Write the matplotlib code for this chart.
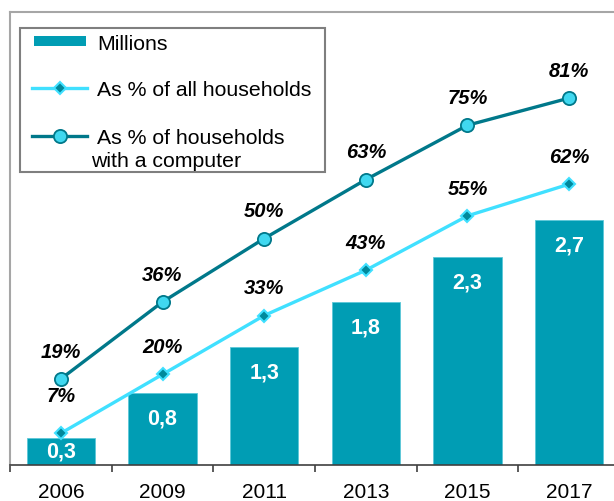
import matplotlib
matplotlib.use("Agg")
import matplotlib.pyplot as plt
from matplotlib.lines import Line2D
from matplotlib.patches import Rectangle

plt.rcParams['font.family'] = ['Liberation Sans', 'DejaVu Sans']

years = ["2006", "2009", "2011", "2013", "2015", "2017"]
millions = [0.3, 0.8, 1.3, 1.8, 2.3, 2.7]
pct_all = [7, 20, 33, 43, 55, 62]
pct_computer = [19, 36, 50, 63, 75, 81]
legend_labels = ["Millions", "As % of all households",
                 "As % of households", "with a computer"]

bar_color = '#009DB4'
light = '#40E0FF'
dark = '#00788A'

W, H = 614, 502
fig = plt.figure(figsize=(W / 100, H / 100), dpi=100)
ax = fig.add_axes([10 / W, 36 / H, 610 / W, 453 / H])
x = list(range(len(years)))

ax.bar(x, millions, width=0.67, color=bar_color, edgecolor='#5CC8D8',
       linewidth=0.6, zorder=2)
ax.set_ylim(0, 5)
ax.set_xlim(-0.5, len(years) - 0.5)

for xi, v in zip(x, millions):
    txt = f"{v:.1f}".replace('.', ',')
    if v < 0.5:
        ax.text(xi, v / 2, txt, ha='center', va='center', color='white',
                fontsize=15.5, fontweight='bold', zorder=5)
    else:
        ax.annotate(txt, (xi, v), xytext=(0, -18), textcoords='offset points',
                    ha='center', va='center', color='white',
                    fontsize=15.5, fontweight='bold', zorder=5)

ax2 = ax.twinx()
ax2.set_ylim(0, 100)
all_style = dict(color=light, lw=2.4, marker='D', ms=6,
                 mfc='#00899C', mec=light, mew=1.5)
comp_style = dict(color=dark, lw=2.4, marker='o', ms=9.5,
                  mfc='#40D8F0', mec=dark, mew=1.3)
ax2.plot(x, pct_all, zorder=3, **all_style)
ax2.plot(x, pct_computer, zorder=3, **comp_style)

for i, (xi, v) in enumerate(zip(x, pct_all)):
    off = 27 if i == 0 else 20
    ax2.annotate(f"{v}%", (xi, v), xytext=(0, off), textcoords='offset points',
                 ha='center', va='center', fontsize=14.5, fontweight='bold',
                 fontstyle='italic', color='black')
for xi, v in zip(x, pct_computer):
    ax2.annotate(f"{v}%", (xi, v), xytext=(0, 20), textcoords='offset points',
                 ha='center', va='center', fontsize=14.5, fontweight='bold',
                 fontstyle='italic', color='black')

# axis styling
for a in (ax, ax2):
    a.set_yticks([])
ax.spines['left'].set_color('#A6A6A6')
ax.spines['left'].set_linewidth(1.5)
ax.spines['top'].set_color('#A6A6A6')
ax.spines['top'].set_linewidth(1.5)
ax.spines['right'].set_visible(False)
ax.spines['bottom'].set_color('#404040')
ax.spines['bottom'].set_linewidth(1.2)
for s in ax2.spines.values():
    s.set_visible(False)

ax.set_xticks([i - 0.5 for i in range(len(years) + 1)])
ax.set_xticklabels([])
ax.tick_params(axis='x', which='major', direction='out', length=5,
               width=1.2, color='#404040')
ax.set_xticks(x, minor=True)
ax.set_xticklabels(years, minor=True, fontsize=15)
ax.tick_params(axis='x', which='minor', length=0, pad=12)


# legend box, laid out in pixel units measured from the top-left corner
def fx(px):
    return px / W


def fy(py):
    return 1 - py / H


fig.add_artist(Rectangle((fx(20), fy(173)), fx(325) - fx(20), fy(29) - fy(173),
                         transform=fig.transFigure, facecolor='white',
                         edgecolor='#7F7F7F', linewidth=1.5, zorder=10))
fig.add_artist(Rectangle((fx(34), fy(47)), fx(86) - fx(34), fy(37) - fy(47),
                         transform=fig.transFigure, facecolor=bar_color,
                         edgecolor='none', zorder=11))
for yy, style in ((89, all_style), (137, comp_style)):
    ln = Line2D([fx(32), fx(87)], [fy(yy), fy(yy)], transform=fig.transFigure,
                markevery=[], zorder=11, **style)
    fig.add_artist(ln)
    fig.add_artist(Line2D([fx(59.5)], [fy(yy)], transform=fig.transFigure,
                          linestyle='none', zorder=12,
                          **{k: v for k, v in style.items() if k not in ('lw', 'color')}))
for (px, py), lab in zip([(97, 42), (97, 89), (97, 137), (91, 160)], legend_labels):
    fig.text(fx(px), fy(py), lab, ha='left', va='center_baseline',
             fontsize=15.3, zorder=12)

fig.savefig("out.png", dpi=100)
